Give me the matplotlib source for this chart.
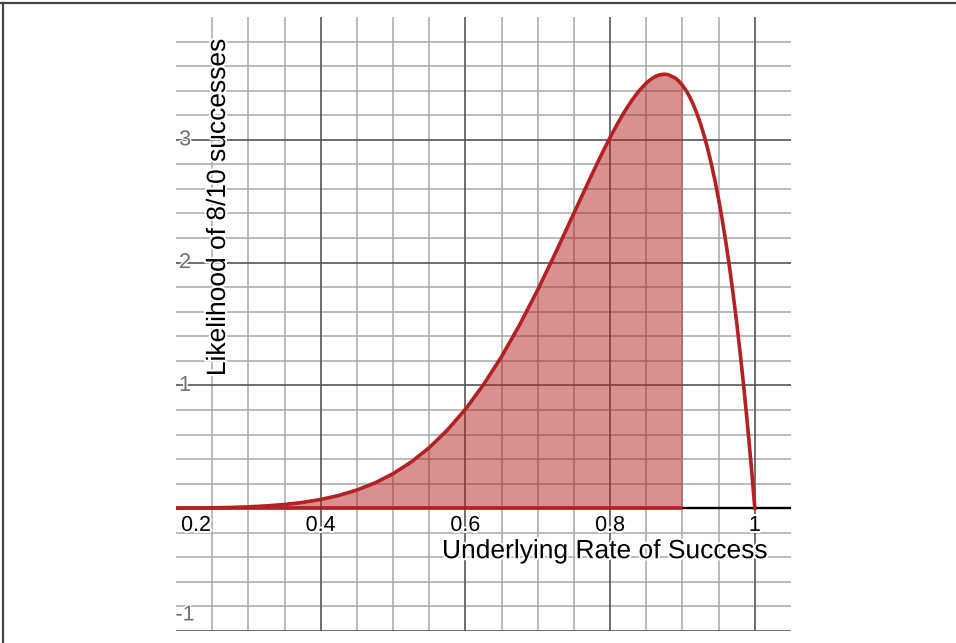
import matplotlib
matplotlib.use("Agg")
import matplotlib.pyplot as plt
import matplotlib.patheffects as pe
from matplotlib.lines import Line2D
import numpy as np

plt.rcParams["font.family"] = ["Liberation Sans", "DejaVu Sans"]

# likelihood curve
RATE = [0.20, 0.25, 0.275, 0.30, 0.325, 0.35, 0.375, 0.40, 0.425, 0.45,
        0.475, 0.50, 0.525, 0.55, 0.575, 0.60, 0.625, 0.65, 0.675, 0.70,
        0.725, 0.75, 0.765, 0.78, 0.79, 0.80, 0.81, 0.82, 0.83, 0.84,
        0.85, 0.855, 0.86, 0.865, 0.87, 0.875, 0.88, 0.89, 0.895, 0.90,
        0.905, 0.91, 0.915, 0.92, 0.925, 0.93, 0.935, 0.94, 0.945, 0.95,
        0.955, 0.96, 0.965, 0.97, 0.975, 0.98, 0.985, 0.99, 0.995, 1.00]
LIKELIHOOD = [0.000, 0.003, 0.006, 0.011, 0.019, 0.030, 0.047, 0.071, 0.104, 0.148,
              0.206, 0.281, 0.376, 0.493, 0.636, 0.806, 1.006, 1.235, 1.494, 1.779,
              2.085, 2.403, 2.594, 2.782, 2.904, 3.020, 3.129, 3.231, 3.321, 3.399,
              3.462, 3.487, 3.507, 3.522, 3.531, 3.534, 3.531, 3.503, 3.478, 3.444,
              3.401, 3.349, 3.286, 3.213, 3.129, 3.033, 2.924, 2.801, 2.665, 2.514,
              2.347, 2.164, 1.964, 1.745, 1.508, 1.250, 0.972, 0.671, 0.348, 0.000]
SHADE_TO = 0.90

X_TICKS = [0.4, 0.6, 0.8, 1.0]
X_LABELS = ["0.2", "0.4", "0.6", "0.8", "1"]
X_LABEL_POS = [0.207, 0.4, 0.6, 0.8, 1.0]
Y_TICKS = [-1, 1, 2, 3]
Y_LABELS = ["-1", "1", "2", "3"]

RED = "#b22222"
MINOR = "#a8a8a8"
MAJOR = "#555555"

fig = plt.figure(figsize=(9.56, 6.43), dpi=100)
ax = fig.add_axes([176 / 956, 12 / 643, 615 / 956, 614 / 643])
ax.set_xlim(0.2, 1.05)
ax.set_ylim(-1, 4)
ax.set_axis_off()

# ── grid ──────────────────────────────────────────────────────────────────────
for xv in np.arange(0.25, 1.05, 0.05):
    if min(abs(xv - t) for t in X_TICKS) > 1e-6:
        ax.axvline(xv, color=MINOR, lw=1.1, zorder=0)
for xv in X_TICKS:
    ax.axvline(xv, color=MAJOR, lw=1.2, zorder=0.5)
for yv in np.arange(-0.8, 3.9, 0.2):
    if abs(yv - round(yv)) > 1e-6:
        ax.axhline(yv, color=MINOR, lw=1.1, zorder=0)
for yv in Y_TICKS:
    ax.axhline(yv, color=MAJOR, lw=1.2, zorder=0.5)
ax.axhline(0, color="black", lw=1.7, zorder=1)

# ── curve + shaded area ───────────────────────────────────────────────────────
x = np.array(RATE)
y = np.array(LIKELIHOOD)
m = x <= SHADE_TO + 1e-9
ax.fill_between(x[m], 0, y[m], color=RED, alpha=0.5, lw=0, zorder=2)
ax.plot([0.2, SHADE_TO], [0, 0], color=RED, lw=2.6, zorder=3, solid_capstyle="butt")
ax.plot(x, y, color=RED, lw=2.6, zorder=3, solid_joinstyle="round")

# ── labels ────────────────────────────────────────────────────────────────────
halo = [pe.withStroke(linewidth=3, foreground="white")]
for lab, xp in zip(X_LABELS, X_LABEL_POS):
    ax.text(xp, -0.14, lab, ha="left" if lab == "0.2" else "center", va="center",
            fontsize=15.5, color="black", path_effects=halo, zorder=4)
for lab, yv in zip(Y_LABELS, Y_TICKS):
    yp = -0.87 if yv == -1 else yv
    ax.text(0.2125, yp, lab, ha="center", va="center", fontsize=15.5,
            color="#707070", path_effects=[pe.withStroke(linewidth=2, foreground="white")],
            zorder=4)

ax.text(1.018, -0.35, "Underlying Rate of Success", ha="right", va="center",
        fontsize=19, path_effects=halo, zorder=4)
ax.text(0.258, 2.45, "Likelihood of 8/10 successes", ha="center", va="center",
        rotation=90, fontsize=19, path_effects=halo, zorder=4)

# frame lines at top and left of the picture
fig.add_artist(Line2D([0, 1], [1 - 3 / 643, 1 - 3 / 643], color="#444444", lw=1.6))
fig.add_artist(Line2D([3 / 956, 3 / 956], [0, 1 - 3 / 643], color="#444444", lw=1.6))

fig.savefig("out.png", dpi=100)
